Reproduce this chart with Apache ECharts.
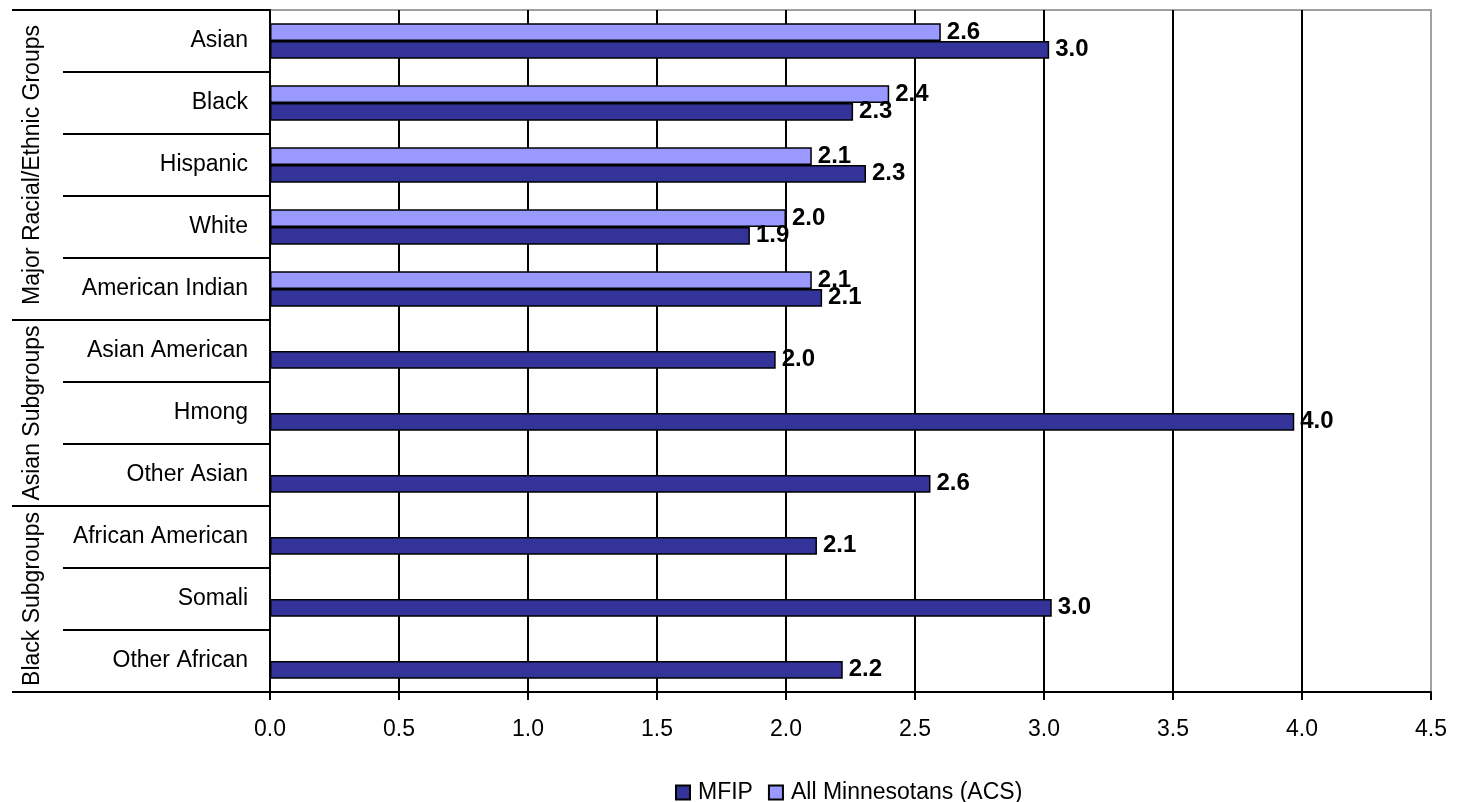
<!DOCTYPE html>
<html>
<head>
<meta charset="utf-8">
<script src="https://cdn.jsdelivr.net/npm/echarts@6/dist/echarts.min.js"></script>
<style>
html,body{margin:0;padding:0;background:#fff;}
#chart{width:1457px;height:802px;}
</style>
</head>
<body>
<div id="chart"></div>
<script>
const categories = ['Asian','Black','Hispanic','White','American Indian','Asian American','Hmong','Other Asian','African American','Somali','Other African'];
const groupLabels = ['', '', 'Major Racial/Ethnic Groups', '', '', '', 'Asian Subgroups', '', '', 'Black Subgroups', ''];
const groupStarts = [0, 5, 8];
const mfip = [3.02, 2.26, 2.31, 1.86, 2.14, 1.96, 3.97, 2.56, 2.12, 3.03, 2.22];
const acs = [2.60, 2.40, 2.10, 2.00, 2.10, null, null, null, null, null, null];
const xTicks = [0, 0.5, 1, 1.5, 2, 2.5, 3, 3.5, 4, 4.5];

const FONT = 'Liberation Sans, Arial, sans-serif';
const chart = echarts.init(document.getElementById('chart'));
const gridColors = xTicks.map((v, i) => i === xTicks.length - 1 ? '#a0a0a0' : '#000');
const lbl = {
  show: true, position: 'right', distance: 6,
  fontFamily: FONT, fontSize: 24, fontWeight: 'bold', color: '#000',
  formatter: p => p.value == null ? '' : Number(p.value).toFixed(1)
};
chart.setOption({
  animation: false,
  backgroundColor: '#fff',
  grid: { left: 270, top: 10, right: 26, bottom: 110, show: true, borderColor: '#a0a0a0', borderWidth: 2, backgroundColor: 'transparent' },
  legend: {
    top: 776, left: 670,
    data: ['MFIP', 'All Minnesotans (ACS)'],
    icon: 'rect',
    itemWidth: 14, itemHeight: 14, itemGap: 15,
    textStyle: { fontFamily: FONT, fontSize: 23, color: '#000', padding: [0, 0, 0, 3] }
  },
  xAxis: {
    type: 'value', min: 0, max: 4.5, interval: 0.5,
    axisLine: { show: true, lineStyle: { color: '#000', width: 2 } },
    axisTick: { show: true, length: 8, lineStyle: { color: '#000', width: 2 } },
    axisLabel: { margin: 26, fontFamily: FONT, fontSize: 23, color: '#000', formatter: v => v.toFixed(1) },
    splitLine: { show: true, lineStyle: { color: gridColors, width: 2 } }
  },
  yAxis: [{
    type: 'category', data: categories, inverse: true,
    axisLine: { show: true, lineStyle: { color: '#000', width: 2 } },
    axisTick: { show: true, length: 207, lineStyle: { color: '#000', width: 2 } },
    axisLabel: { margin: 22, fontFamily: FONT, fontSize: 23, color: '#000', interval: 0 },
    splitLine: { show: false }
  }, {
    type: 'category', data: groupLabels, inverse: true, position: 'left',
    axisLine: { show: false },
    axisTick: { show: true, length: 258, interval: (i) => groupStarts.indexOf(i) >= 0, lineStyle: { color: '#000', width: 2 } },
    axisLabel: { margin: 226, rotate: 90, fontFamily: FONT, fontSize: 23, color: '#000', interval: 0 },
    splitLine: { show: false }
  }],
  series: [{
    name: 'All Minnesotans (ACS)', type: 'bar', data: acs, yAxisIndex: 0,
    barGap: '0%', barCategoryGap: '43%',
    itemStyle: { color: '#9999ff', borderColor: '#000', borderWidth: 1.5 },
    label: lbl
  }, {
    name: 'MFIP', type: 'bar', data: mfip, yAxisIndex: 0,
    barGap: '0%', barCategoryGap: '43%',
    itemStyle: { color: '#333399', borderColor: '#000', borderWidth: 1.5 },
    label: lbl
  }]
});
</script>
</body>
</html>
